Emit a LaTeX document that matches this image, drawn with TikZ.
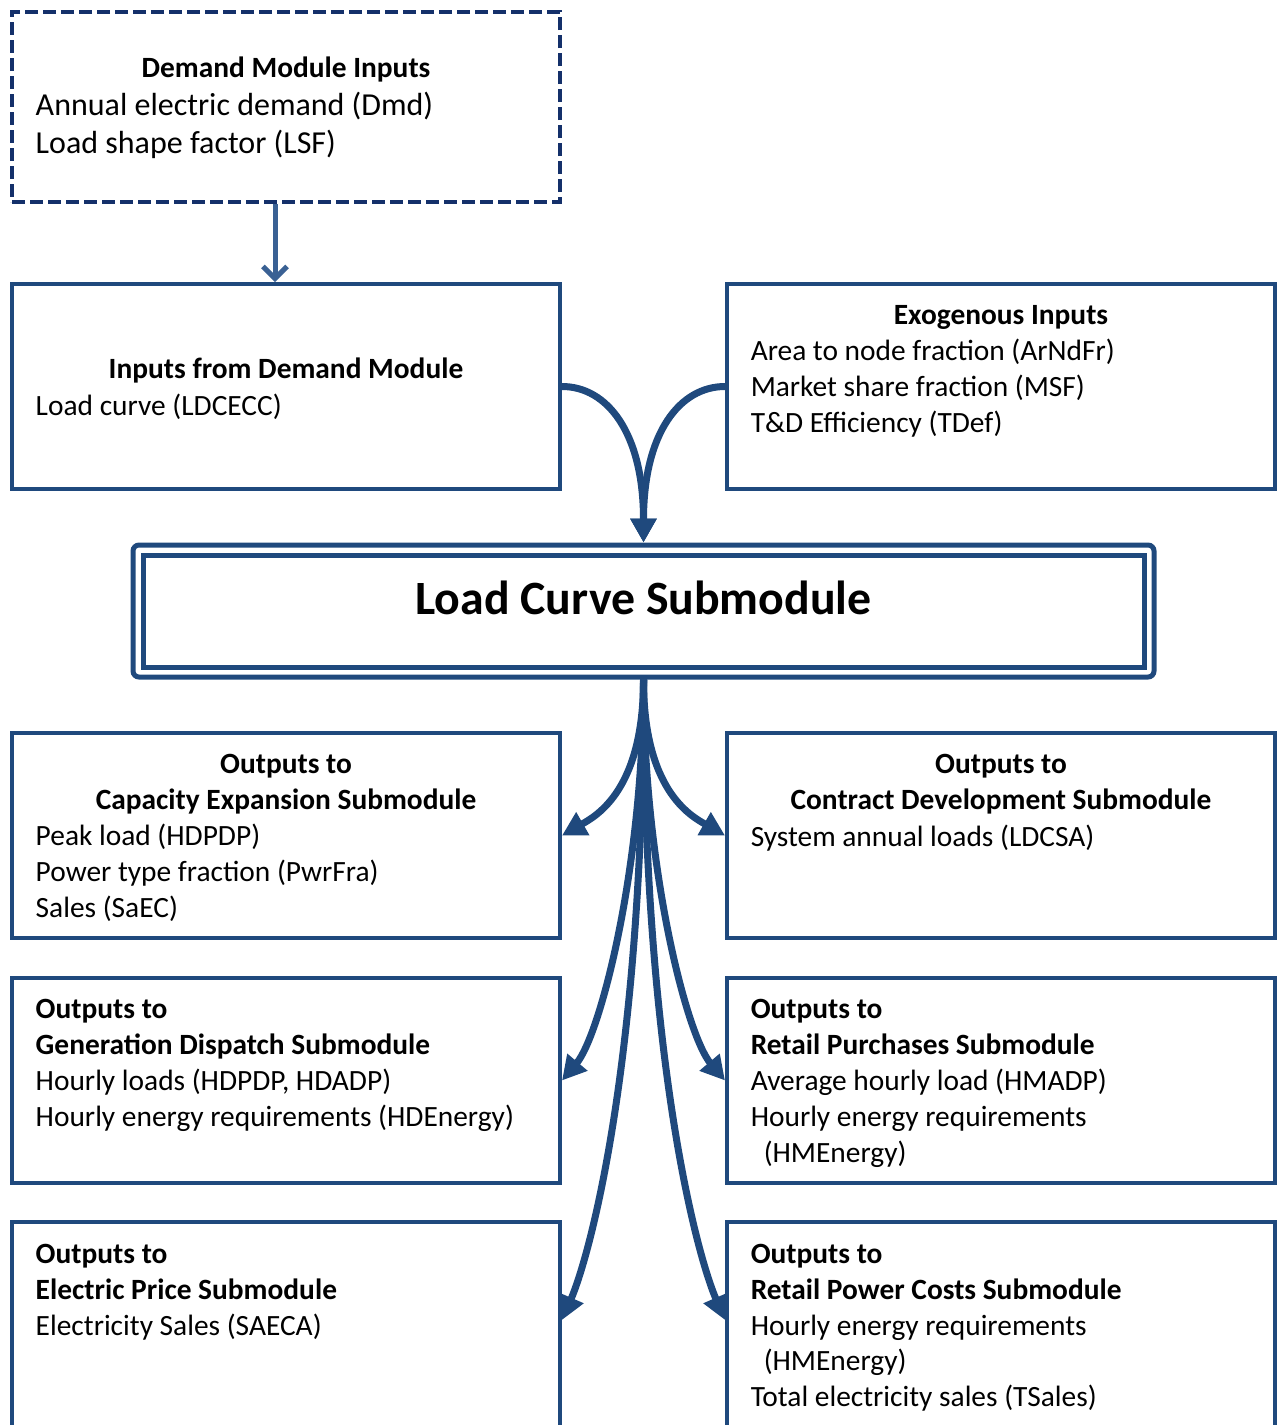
\documentclass[tikz,border=0pt]{standalone}
\usepackage{fontspec}
\setmainfont{Carlito}
\usetikzlibrary{arrows.meta,calc}
\definecolor{boxblue}{HTML}{1F497D}
\definecolor{navyblue}{HTML}{14306A}
\definecolor{linkblue}{HTML}{3A6194}
\tikzset{every picture/.style={line width=0.75pt}}

\begin{document}
\begin{tikzpicture}[x=0.5pt,y=0.5pt,yscale=-1,xscale=1,
  box/.style={draw=boxblue, line width=2pt, inner sep=0pt, minimum width=274pt, minimum height=102.5pt},
  txt/.style={anchor=base west, inner sep=0pt, font=\fontsize{14.7}{17}\selectfont},
  head/.style={anchor=base, inner sep=0pt, font=\fontsize{14.7}{17}\selectfont\bfseries},
  headl/.style={anchor=base west, inner sep=0pt, font=\fontsize{14.7}{17}\selectfont\bfseries},
  flow/.style={draw=boxblue, line width=3.5pt, -{Triangle[length=12pt,width=12.5pt]}}]
\useasboundingbox (0,0) rectangle (1283,1425);
\clip (0,0) rectangle (1283,1425);

%Shape: Dashed box
\node (dmdIn) [box, draw=navyblue, dash pattern=on 6.5pt off 2.5pt, minimum height=95pt] at (286,107) {};
%Shape: Boxes
\node (fromDmd) [box] at (286,386.5) {};
\node (exo) [box] at (1001,386.5) {};
\node (lcs) [box, rounded corners=3pt, line width=2.5pt, minimum width=510.5pt, minimum height=66pt] at (643.5,611) {};
\node (lcsIn) [box, line width=2.5pt, minimum width=500.5pt, minimum height=56pt] at (643.5,611) {};
\node (cap) [box] at (286,835.5) {};
\node (ctr) [box] at (1001,835.5) {};
\node (gen) [box] at (286,1080.5) {};
\node (rp) [box] at (1001,1080.5) {};
\node (price) [box, minimum height=110pt] at (286,1332) {};
\node (cost) [box, minimum height=110pt] at (1001,1332) {};

%Straight Lines
\draw [linkblue, line width=2.5pt, -{Straight Barb[length=6pt,width=12pt]}] (dmdIn.south -| 275,0) -- (fromDmd.north -| 275,0);
%Curves into the submodule
\draw [flow] (fromDmd.east) .. controls +(45,0) and +(0,-110) .. (lcs.north);
\draw [flow] (exo.west) .. controls +(-45,0) and +(0,-110) .. (lcs.north);
%Curves out of the submodule
\draw [flow] (lcs.south) .. controls +(0,110) and +(35,-20) .. (cap.east);
\draw [flow] (lcs.south) .. controls +(0,110) and +(-35,-20) .. (ctr.west);
\draw [flow] (lcs.south) .. controls +(0,190) and +(38,-45) .. (gen.east);
\draw [flow] (lcs.south) .. controls +(0,190) and +(-38,-45) .. (rp.west);
\draw [flow] (lcs.south) .. controls +(0,380) and +(28,-65) .. ($(price.north east)+(0,100)$);
\draw [flow] (lcs.south) .. controls +(0,380) and +(-28,-65) .. ($(cost.north west)+(0,100)$);

% Text Node
\node (tDmd) [head] at (286,77) {Demand Module Inputs};
\node (tDmdA) [txt, font=\fontsize{16}{18}\selectfont] at (35,115) {Annual electric demand (Dmd)};
\node (tDmdB) [txt, font=\fontsize{16}{18}\selectfont] at (35,153) {Load shape factor (LSF)};
% Text Node
\node (tFrom) [head] at (286,378) {Inputs from Demand Module};
\node (tFromA) [txt] at (35,415) {Load curve (LDCECC)};
% Text Node
\node (tExo) [head] at (1001,324) {Exogenous Inputs};
\node (tExoA) [txt] at (750,360) {Area to node fraction (ArNdFr)};
\node (tExoB) [txt] at (750,396) {Market share fraction (MSF)};
\node (tExoC) [txt] at (750,432) {T\&D Efficiency (TDef)};
% Text Node
\node (tLcs) [anchor=base, inner sep=0pt, font=\fontsize{23.9}{27}\selectfont\bfseries] at (643.5,614) {Load Curve Submodule};
% Text Node
\node (tCap) [head] at (286,773) {Outputs to};
\node (tCapB) [head] at (286,809) {Capacity Expansion Submodule};
\node (tCapC) [txt] at (35,845) {Peak load (HDPDP)};
\node (tCapD) [txt] at (35,881) {Power type fraction (PwrFra)};
\node (tCapE) [txt] at (35,917) {Sales (SaEC)};
% Text Node
\node (tCtr) [head] at (1001,773) {Outputs to};
\node (tCtrB) [head] at (1001,809) {Contract Development Submodule};
\node (tCtrC) [txt] at (750,846) {System annual loads (LDCSA)};
% Text Node
\node (tGen) [headl] at (35,1018) {Outputs to};
\node (tGenB) [headl] at (35,1054) {Generation Dispatch Submodule};
\node (tGenC) [txt] at (35,1090) {Hourly loads (HDPDP, HDADP)};
\node (tGenD) [txt] at (35,1126) {Hourly energy requirements (HDEnergy)};
% Text Node
\node (tRp) [headl] at (750,1018) {Outputs to};
\node (tRpB) [headl] at (750,1054) {Retail Purchases Submodule};
\node (tRpC) [txt] at (750,1090) {Average hourly load (HMADP)};
\node (tRpD) [txt] at (750,1126) {Hourly energy requirements};
\node (tRpE) [txt] at (763,1162) {(HMEnergy)};
% Text Node
\node (tPrice) [headl] at (35,1263) {Outputs to};
\node (tPriceB) [headl] at (35,1299) {Electric Price Submodule};
\node (tPriceC) [txt] at (35,1335) {Electricity Sales (SAECA)};
% Text Node
\node (tCost) [headl] at (750,1263) {Outputs to};
\node (tCostB) [headl] at (750,1299) {Retail Power Costs Submodule};
\node (tCostC) [txt] at (750,1335) {Hourly energy requirements};
\node (tCostD) [txt] at (763,1370) {(HMEnergy)};
\node (tCostE) [txt] at (750,1406) {Total electricity sales (TSales)};

\end{tikzpicture}
\end{document}
